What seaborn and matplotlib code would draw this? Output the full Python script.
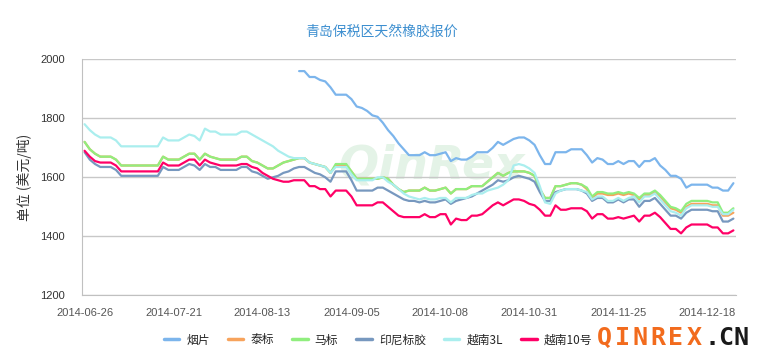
import numpy as np
import pandas as pd
import matplotlib
matplotlib.use("Agg")
import matplotlib.pyplot as plt
import seaborn as sns

# 青岛保税区天然橡胶报价 (美元/吨), one point per trading day
series_names = ['烟片', '泰标', '马标', '印尼标胶', '越南3L', '越南10号']
tick_labels = ['2014-06-26', '2014-07-21', '2014-08-13', '2014-09-05',
               '2014-10-08', '2014-10-31', '2014-11-25', '2014-12-18']
tick_step = 17  # points between labelled dates

yanpian = [np.nan] * 41 + [
    1960, 1960, 1940, 1940, 1930, 1925, 1905, 1880, 1880, 1880, 1865, 1840, 1835, 1825, 1810,
    1805, 1785, 1760, 1740, 1715, 1695, 1675, 1675, 1675, 1685, 1675, 1675, 1680, 1685, 1655,
    1665, 1660, 1660, 1670, 1685, 1685, 1685, 1700, 1720, 1710, 1720, 1730, 1735, 1735, 1725,
    1710, 1675, 1645, 1645, 1685, 1685, 1685, 1695, 1695, 1695, 1675, 1650, 1665, 1660, 1645,
    1645, 1655, 1645, 1655, 1655, 1635, 1655, 1655, 1665, 1640, 1625, 1605, 1605, 1595, 1565,
    1575, 1575, 1575, 1575, 1565, 1565, 1555, 1555, 1580]

taibiao = [
    1720, 1695, 1680, 1670, 1670, 1670, 1660, 1640, 1640, 1640, 1640, 1640, 1640, 1640, 1640,
    1670, 1660, 1660, 1660, 1670, 1680, 1680, 1660, 1680, 1670, 1665, 1660, 1660, 1660, 1660,
    1670, 1670, 1655, 1650, 1640, 1630, 1630, 1640, 1650, 1655, 1660, 1665, 1665, 1650, 1645,
    1640, 1635, 1615, 1640, 1640, 1640, 1620, 1595, 1595, 1595, 1595, 1595, 1600, 1595, 1575,
    1560, 1550, 1555, 1555, 1555, 1565, 1555, 1555, 1560, 1565, 1545, 1560, 1560, 1560, 1570,
    1570, 1570, 1585, 1600, 1615, 1605, 1615, 1620, 1620, 1620, 1615, 1605, 1560, 1530, 1530,
    1570, 1570, 1575, 1580, 1580, 1575, 1560, 1530, 1545, 1545, 1540, 1540, 1545, 1540, 1545,
    1540, 1525, 1540, 1540, 1550, 1535, 1515, 1495, 1490, 1480, 1500, 1510, 1510, 1510, 1510,
    1505, 1505, 1470, 1470, 1480]

mabiao = [
    1720, 1695, 1680, 1670, 1670, 1670, 1660, 1640, 1640, 1640, 1640, 1640, 1640, 1640, 1640,
    1670, 1660, 1660, 1660, 1670, 1680, 1680, 1660, 1680, 1670, 1665, 1660, 1660, 1660, 1660,
    1670, 1670, 1655, 1650, 1640, 1630, 1630, 1640, 1650, 1655, 1660, 1665, 1665, 1650, 1645,
    1640, 1635, 1615, 1645, 1645, 1645, 1620, 1595, 1595, 1595, 1595, 1595, 1600, 1595, 1575,
    1560, 1550, 1555, 1555, 1555, 1565, 1555, 1555, 1560, 1565, 1545, 1560, 1560, 1560, 1570,
    1570, 1570, 1585, 1600, 1615, 1605, 1615, 1620, 1620, 1620, 1615, 1605, 1560, 1530, 1530,
    1570, 1570, 1575, 1580, 1580, 1575, 1565, 1535, 1550, 1550, 1545, 1545, 1550, 1545, 1550,
    1545, 1530, 1545, 1545, 1555, 1540, 1520, 1500, 1495, 1485, 1510, 1520, 1520, 1520, 1520,
    1515, 1515, 1480, 1480, 1495]

yinni = [
    1685, 1660, 1645, 1635, 1635, 1635, 1625, 1605, 1605, 1605, 1605, 1605, 1605, 1605, 1605,
    1635, 1625, 1625, 1625, 1635, 1645, 1640, 1625, 1645, 1635, 1635, 1625, 1625, 1625, 1625,
    1635, 1635, 1620, 1615, 1605, 1595, 1600, 1605, 1615, 1620, 1630, 1635, 1635, 1625, 1615,
    1610, 1600, 1585, 1620, 1620, 1620, 1590, 1555, 1555, 1555, 1555, 1565, 1565, 1555, 1545,
    1535, 1525, 1520, 1520, 1515, 1520, 1515, 1515, 1520, 1525, 1510, 1520, 1525, 1530, 1535,
    1545, 1555, 1565, 1575, 1590, 1585, 1590, 1600, 1605, 1600, 1595, 1585, 1550, 1520, 1520,
    1550, 1555, 1560, 1560, 1560, 1555, 1545, 1520, 1530, 1530, 1515, 1515, 1525, 1515, 1525,
    1525, 1500, 1520, 1520, 1530, 1510, 1490, 1470, 1470, 1460, 1480, 1490, 1490, 1490, 1490,
    1485, 1485, 1450, 1450, 1460]

yuenan3l = [
    1780, 1760, 1745, 1735, 1735, 1735, 1725, 1705, 1705, 1705, 1705, 1705, 1705, 1705, 1705,
    1735, 1725, 1725, 1725, 1735, 1745, 1740, 1725, 1765, 1755, 1755, 1745, 1745, 1745, 1745,
    1755, 1755, 1745, 1735, 1725, 1715, 1705, 1690, 1680, 1670, 1665, 1665, 1665, 1650, 1645,
    1640, 1635, 1615, 1635, 1635, 1635, 1610, 1590, 1590, 1590, 1590, 1600, 1600, 1585, 1575,
    1560, 1545, 1535, 1530, 1525, 1530, 1525, 1525, 1530, 1530, 1515, 1530, 1530, 1530, 1540,
    1545, 1545, 1555, 1560, 1565, 1575, 1590, 1640, 1645, 1640, 1630, 1615, 1570, 1515, 1510,
    1545, 1555, 1560, 1560, 1560, 1555, 1550, 1525, 1535, 1535, 1520, 1520, 1530, 1520, 1530,
    1535, 1515, 1535, 1535, 1545, 1525, 1505, 1485, 1480, 1470, 1495, 1505, 1505, 1505, 1505,
    1500, 1500, 1475, 1475, 1490]

yuenan10 = [
    1690, 1670, 1655, 1650, 1650, 1650, 1640, 1620, 1620, 1620, 1620, 1620, 1620, 1620, 1620,
    1650, 1640, 1640, 1640, 1650, 1660, 1660, 1640, 1660, 1650, 1645, 1640, 1640, 1640, 1640,
    1645, 1645, 1635, 1630, 1615, 1605, 1595, 1590, 1585, 1585, 1590, 1590, 1590, 1570, 1570,
    1560, 1560, 1535, 1555, 1555, 1555, 1535, 1505, 1505, 1505, 1505, 1515, 1515, 1500, 1485,
    1470, 1465, 1465, 1465, 1465, 1475, 1465, 1465, 1475, 1475, 1440, 1460, 1455, 1455, 1470,
    1470, 1475, 1490, 1505, 1515, 1505, 1515, 1525, 1525, 1520, 1510, 1505, 1490, 1470, 1470,
    1505, 1490, 1490, 1495, 1495, 1495, 1485, 1460, 1475, 1475, 1460, 1460, 1465, 1460, 1465,
    1470, 1450, 1470, 1470, 1480, 1465, 1445, 1425, 1425, 1410, 1430, 1440, 1440, 1440, 1440,
    1430, 1430, 1410, 1410, 1420]

colors = ['#7cb5ec', '#f7a35c', '#90ee7e', '#7798bf', '#aaeeee', '#ff0066']

values = [yanpian, taibiao, mabiao, yinni, yuenan3l, yuenan10]
frames = []
for name, vals in zip(series_names, values):
    frames.append(pd.DataFrame({'idx': np.arange(len(vals)), 'price': vals, 'series': name}))
df = pd.concat(frames, ignore_index=True)

sns.set_style("white")
plt.rcParams['font.family'] = ['Liberation Sans', 'Noto Sans CJK SC', 'DejaVu Sans']
cjk = ['Noto Sans CJK SC', 'DejaVu Sans']

fig = plt.figure(figsize=(7.59, 3.54), dpi=100)
ax = fig.add_axes([81.7 / 759, 1 - 295.3 / 354, (736 - 81.7) / 759, (295.3 - 59.3) / 354])

# faint watermark behind the lines
ax.text(0.535, 0.55, 'QinRex', transform=ax.transAxes, fontsize=34, fontweight='bold',
        fontstyle='italic', color='#e4f3e7', ha='center', va='center', zorder=0,
        family='DejaVu Sans')

sns.lineplot(data=df, x='idx', y='price', hue='series', hue_order=series_names,
             palette=colors, linewidth=1.6, estimator=None, ax=ax, legend=True)

ax.set_xlim(-0.55, 124.5)
ax.set_ylim(1200, 2000)
ax.set_yticks([1200, 1400, 1600, 1800, 2000])
ax.set_xticks([i * tick_step for i in range(len(tick_labels))])
ax.set_xticklabels(tick_labels, fontsize=8, color='#555555')
ax.tick_params(axis='y', length=0, pad=12, labelsize=8, labelcolor='#333333')
ax.tick_params(axis='x', length=7, width=1, color='#c0d0e0', pad=2, direction='out')
ax.yaxis.grid(True, color='#c8c8c8', linewidth=1)
ax.xaxis.grid(False)
ax.set_axisbelow(True)
for s in ['top', 'right']:
    ax.spines[s].set_visible(False)
ax.spines['left'].set_color('#c0c0c0')
ax.spines['bottom'].set_color('#c0c0c0')
ax.set_xlabel('')
ax.set_ylabel('单位 (美元/吨)', fontsize=10, color='#333333', labelpad=6, family=cjk)

handles, labels = ax.get_legend_handles_labels()
ax.get_legend().remove()
leg = fig.legend(handles, labels, loc='center', bbox_to_anchor=(378 / 759, 1 - 340 / 354),
                 ncol=6, frameon=False, handlelength=1.3, handletextpad=0.6,
                 columnspacing=1.55, prop={'family': cjk, 'size': 8.5})
for ln in leg.get_lines():
    ln.set_linewidth(2.5)

fig.text(0.503, 1 - 32 / 354, '青岛保税区天然橡胶报价', ha='center', va='center',
         fontsize=10, color='#3d8fd0', family=cjk)

# site mark in the corner, letter-spaced orange part plus black domain
mark_x = [604, 622, 640, 658, 676, 694]
for ch, xp in zip('QINREX', mark_x):
    fig.text(xp / 759, 1 - 338 / 354, ch, ha='center', va='center', fontsize=18,
             fontweight='bold', color='#f26b1d', family='DejaVu Sans Mono')
fig.text(704 / 759, 1 - 338 / 354, '.CN', ha='left', va='center', fontsize=18,
         fontweight='bold', color='#1a1a1a', family='DejaVu Sans Mono')

fig.savefig('out.png', dpi=100)
